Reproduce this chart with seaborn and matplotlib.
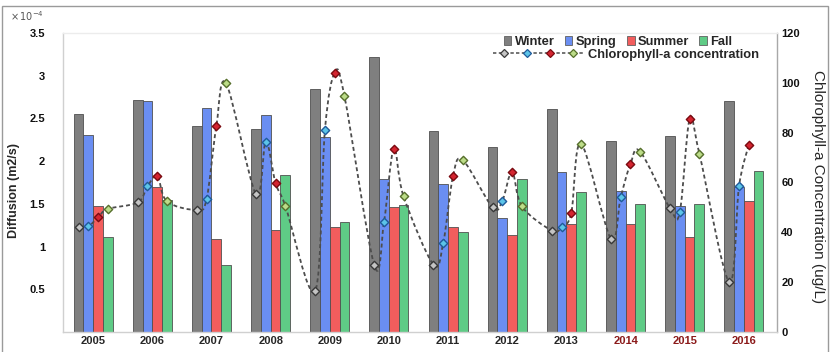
import numpy as np
import pandas as pd
import matplotlib
matplotlib.use("Agg")
import matplotlib.pyplot as plt
import seaborn as sns
from matplotlib.path import Path
from matplotlib.patches import PathPatch, Rectangle, Patch
from matplotlib.lines import Line2D
from matplotlib.legend_handler import HandlerTuple

sns.set_style("white")
plt.rcParams["font.family"] = ["Liberation Sans", "DejaVu Sans"]

# ---- data -------------------------------------------------------------
years = ["2005", "2006", "2007", "2008", "2009", "2010",
         "2011", "2012", "2013", "2014", "2015", "2016"]
seasons = ["Winter", "Spring", "Summer", "Fall"]

# diffusion, in units of 1e-4 m2/s
diff_winter = [2.55, 2.72, 2.41, 2.38, 2.85, 3.22, 2.35, 2.17, 2.61, 2.23, 2.30, 2.70]
diff_spring = [2.31, 2.70, 2.62, 2.54, 2.28, 1.79, 1.73, 1.33, 1.87, 1.65, 1.48, 1.70]
diff_summer = [1.48, 1.70, 1.09, 1.19, 1.23, 1.46, 1.23, 1.13, 1.26, 1.26, 1.11, 1.53]
diff_fall = [1.11, 1.55, 0.79, 1.84, 1.29, 1.49, 1.17, 1.79, 1.64, 1.50, 1.50, 1.89]

# chlorophyll-a concentration (ug/L)
chl_winter = [42.0, 52.0, 49.0, 55.3, 16.4, 26.7, 27.0, 50.0, 40.7, 37.4, 49.6, 20.0]
chl_spring = [42.4, 58.4, 53.4, 76.4, 81.0, 44.3, 35.7, 52.7, 42.0, 54.0, 48.3, 58.4]
chl_summer = [46.0, 62.7, 82.7, 59.8, 104.0, 73.6, 62.5, 64.3, 47.8, 67.4, 85.4, 75.1]
chl_fall = [49.4, 52.4, 99.8, 50.7, 94.7, 54.4, 69.0, 50.4, 75.6, 72.4, 71.6, np.nan]

y_ticks_left = [0.5, 1, 1.5, 2, 2.5, 3, 3.5]
y_ticklabels_left = ["0.5", "1", "1.5", "2", "2.5", "3", "3.5"]
y_ticks_right = [0, 20, 40, 60, 80, 100, 120]
highlight_years = ["2014", "2015", "2016"]

# ---- styling ----------------------------------------------------------
bar_colors = {"Winter": "#7f7f7f", "Spring": "#6a8ef2",
              "Summer": "#f25d5d", "Fall": "#5fcb86"}
marker_face = {"Winter": "#c4c4c4", "Spring": "#5cc4e8",
               "Summer": "#d42530", "Fall": "#bcdc88"}
marker_edge = {"Winter": "#3a3a3a", "Spring": "#1f5a9a",
               "Summer": "#7a0a10", "Fall": "#566f2c"}
line_color = "#4d4d4d"
dash = (0, (2.2, 1.6))
bold = {"weight": "bold", "size": 8}
legend_font = {"weight": "bold", "size": 9.3}

diff_by_season = dict(zip(seasons, [diff_winter, diff_spring, diff_summer, diff_fall]))
chl_by_season = dict(zip(seasons, [chl_winter, chl_spring, chl_summer, chl_fall]))

bars = pd.DataFrame(
    [(y, s, diff_by_season[s][i]) for i, y in enumerate(years) for s in seasons],
    columns=["year", "season", "diffusion"],
)

fig = plt.figure(figsize=(8.31, 3.52), dpi=100)
ax = fig.add_axes([63 / 831, 20 / 352, 714 / 831, 299 / 352])

group_width = 0.66
sns.barplot(data=bars, x="year", y="diffusion", hue="season",
            order=years, hue_order=seasons, palette=bar_colors,
            width=group_width, gap=0, saturation=1, errorbar=None,
            edgecolor="#505050", linewidth=0.6, legend=False, ax=ax)

ax.set_xlim(-0.51, 11.56)
ax.set_ylim(0, 3.5)
ax.set_yticks(y_ticks_left)
ax.set_yticklabels(y_ticklabels_left, fontdict=bold)
ax.set_xticks(range(len(years)))
ax.set_xticklabels(years, fontdict=bold)
for lab in ax.get_xticklabels():
    if lab.get_text() in highlight_years:
        lab.set_color("#8b1a1a")
ax.tick_params(axis="y", length=0, pad=13, colors="#111111")
ax.tick_params(axis="x", length=0, pad=3)
ax.set_xlabel("")
ax.set_ylabel("Diffusion (m2/s)", fontsize=9, fontweight="bold")
ax.yaxis.set_label_coords(-(63 - 20) / 714, (332 - 190) / 299)
for side, col in [("left", "#d0d0d0"), ("bottom", "#d0d0d0"),
                  ("top", "#ececec"), ("right", "#a8a8a8")]:
    ax.spines[side].set_color(col)
    ax.spines[side].set_linewidth(1.0)

# ---- chlorophyll line on the secondary axis ----------------------------
ax2 = ax.twinx()
ax2.set_ylim(0, 120)
ax2.set_yticks(y_ticks_right)
ax2.set_yticklabels([str(v) for v in y_ticks_right], fontdict=bold)
ax2.tick_params(axis="y", length=0, pad=3, colors="#111111")
for side in ax2.spines:
    ax2.spines[side].set_visible(False)
ax2.set_ylabel("Chlorophyll-a Concentration (ug/L)", fontsize=11,
               rotation=270, va="center")
ax2.yaxis.set_label_coords((818 - 63) / 714, (332 - 187) / 299)

bar_w = group_width / len(seasons)
offsets = {s: (k - 1.5) * bar_w for k, s in enumerate(seasons)}

xs, ys = [], []
for i in range(len(years)):
    for s in seasons:
        v = chl_by_season[s][i]
        if not np.isnan(v):
            xs.append(i + offsets[s])
            ys.append(v)
pts = np.column_stack([xs, ys])


def smooth_path(p):
    verts, codes = [p[0]], [Path.MOVETO]
    n = len(p)
    for i in range(n - 1):
        p0 = p[i - 1] if i > 0 else p[i]
        p1, p2 = p[i], p[i + 1]
        p3 = p[i + 2] if i + 2 < n else p[i + 1]
        verts += [p1 + (p2 - p0) / 6, p2 - (p3 - p1) / 6, p2]
        codes += [Path.CURVE4] * 3
    return Path(verts, codes)


ax2.add_patch(PathPatch(smooth_path(pts), fill=False, edgecolor=line_color,
                        lw=1.3, linestyle=dash, zorder=3))

for s in seasons:
    x = [i + offsets[s] for i in range(len(years))]
    sns.scatterplot(x=x, y=chl_by_season[s], marker="D", s=18,
                    color=marker_face[s], edgecolor=marker_edge[s],
                    linewidth=1.0, zorder=4, legend=False, ax=ax2)

# ---- legends ----------------------------------------------------------
bar_handles = [Patch(facecolor=bar_colors[s], edgecolor="#606060", lw=0.6, label=s)
               for s in seasons]
leg1 = ax2.legend(handles=bar_handles, ncol=4, loc="center",
                  bbox_to_anchor=((618 - 63) / 714, (332 - 42) / 299),
                  frameon=False, prop=legend_font,
                  handlelength=0.6, handleheight=0.6, handletextpad=0.25,
                  columnspacing=0.8, borderpad=0.0)
ax2.add_artist(leg1)

line_handles = tuple(
    Line2D([0], [0], color=line_color, lw=1.1, linestyle=dash, marker="D",
           markersize=4.2, markerfacecolor=marker_face[s],
           markeredgecolor=marker_edge[s], markeredgewidth=0.9)
    for s in seasons)
ax2.legend(handles=[line_handles], labels=["Chlorophyll-a concentration"],
           handler_map={tuple: HandlerTuple(ndivide=None, pad=0)},
           loc="center", bbox_to_anchor=((626 - 63) / 714, (332 - 55) / 299),
           frameon=False, prop=legend_font, handlelength=7.1,
           handletextpad=0.25, borderpad=0.0)

fig.text(10 / 831, 1 - 16 / 352, r"$\times\,10^{-4}$", fontsize=7,
         color="#555555", va="center", ha="left")

fig.add_artist(Rectangle((2 / 831, -0.02), 826 / 831, 1.0 - 6 / 352 + 0.02,
                         transform=fig.transFigure, fill=False,
                         edgecolor="#9a9a9a", lw=1.0))

fig.savefig("out.png", dpi=100)
